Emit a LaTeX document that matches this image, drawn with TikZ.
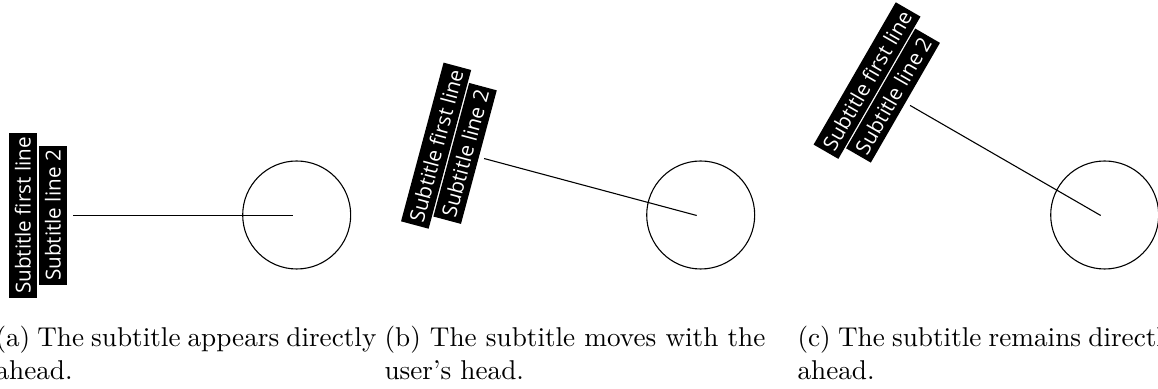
\documentclass[tikz,border=0pt]{standalone}
\usepackage{fontspec}
\newfontfamily\subfont{Open Sans}
\begin{document}
\begin{tikzpicture}[x=0.3676pt,y=0.3676pt,
  subline/.style={fill=black,text=white,font=\subfont\fontsize{7.6}{8}\selectfont,
    inner xsep=1.4pt,inner ysep=0pt,minimum height=10.5pt},
  head/.style={draw,circle,inner sep=0pt,minimum size=39.7pt},
  caption/.style={anchor=base west,inner sep=0pt,font=\normalfont}]
\useasboundingbox (0,0) rectangle (1158,389);
% one panel per head orientation: pivot, head, two subtitle lines, gaze line
\foreach \n/\th/\px in {a/0/292.7,b/15/696.7,c/30/1100.7}{
  \coordinate (P\n) at (\px,173.5);
  \node[head] (H\n) at ([shift={(4,0.5)}]P\n) {};
  \node[subline,rotate=90-\th] (L1\n) at ([shift={({180-\th}:269.8)}]P\n) {Subtitle first line};
  \node[subline,rotate=90-\th] (L2\n) at ([shift={({180-\th}:239.8)}]P\n) {Subtitle line 2};
  \draw[shorten >=1.8pt] (P\n) -- (L2\n.south);
}
\node[caption] (capa) at (-5,42.3) {\parbox[t]{140pt}{(a) The subtitle appears directly ahead.}};
\node[caption] (capb) at (384,42.3) {\parbox[t]{140pt}{(b) The subtitle moves with the user's head.}};
\node[caption] (capc) at (797,42.3) {\parbox[t]{140pt}{(c) The subtitle remains directly ahead.}};
\end{tikzpicture}
\end{document}
